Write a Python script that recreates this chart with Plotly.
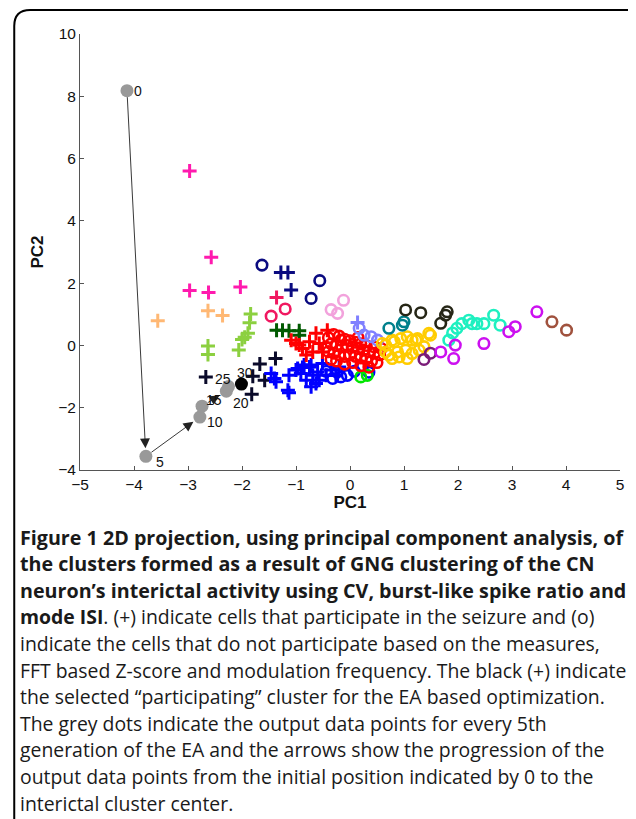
import plotly.graph_objects as go

# ---------------- data ----------------
magenta_plus_x = [-2.97, -2.57, -2.97, -2.62, -2.03]
magenta_plus_y = [5.60, 2.83, 1.76, 1.70, 1.88]

crimson_plus_x = [-1.36]
crimson_plus_y = [1.54]
crimson_circ_x = [-1.46, -1.20]
crimson_circ_y = [0.94, 1.17]

peach_plus_x = [-3.56, -2.63, -2.36]
peach_plus_y = [0.79, 1.11, 0.96]

lime_plus_x = [-2.63, -2.63, -1.84, -1.86, -1.89, -1.95, -2.00, -2.06]
lime_plus_y = [-0.02, -0.29, 1.01, 0.73, 0.39, 0.26, 0.19, -0.15]

navy_plus_x = [-1.28, -1.15, -1.09]
navy_plus_y = [2.34, 2.34, 1.78]
navy_circ_x = [-1.63, -0.56, -0.72]
navy_circ_y = [2.58, 2.08, 1.51]

black_plus_x = [-2.67, -1.67, -1.38, -1.80, -1.58, -1.82]
black_plus_y = [-1.01, -0.60, -0.42, -0.99, -1.12, -1.57]

dgreen_plus_x = [-1.36, -1.25, -1.13, -0.94, -0.94]
dgreen_plus_y = [0.49, 0.49, 0.47, 0.47, 0.33]

blue_plus_x = [-1.46, -1.37, -1.40, -1.13, -1.15, -1.13, -0.97, -1.00, -0.91, -0.88, -0.81,
               -0.85, -0.75, -0.72, -0.69, -0.72, -0.60, -0.57, -0.63, -0.51, -0.44, -0.35,
               -0.26, -0.20]
blue_plus_y = [-0.90, -1.17, -1.06, -0.96, -1.44, -1.52, -0.74, -0.79, -0.90, -0.71, -1.12,
               -0.63, -0.69, -0.63, -0.96, -1.33, -0.85, -1.12, -1.22, -0.58, -0.96, -0.79,
               -0.96, -0.69]
blue_circ_x = [-0.32, -0.17, -0.05, 0.23, 0.08, -0.44, 0.35, -0.24]
blue_circ_y = [-1.06, -1.01, -0.96, -0.69, -0.83, -0.83, -0.86, -0.86]

red_plus_x = [-1.09, -1.00, -0.88, -0.63, -0.42, -0.75, -0.57, -0.69, -0.51, -0.81, -0.94]
red_plus_y = [0.17, 0.06, -0.10, 0.39, 0.49, 0.12, 0.06, -0.21, -0.21, -0.31, 0.01]
red_circ_x = [-0.40, -0.30, -0.20, -0.10, 0.00, 0.10, 0.20, -0.35, -0.25, -0.15, -0.05, 0.05,
              0.15, 0.25, 0.35, 0.45, 0.55, -0.40, -0.30, -0.20, -0.10, 0.00, 0.10, 0.20,
              0.30, 0.40, 0.50, -0.25, -0.10, 0.05, 0.20, 0.35, -0.45, 0.58, 0.45, -0.35,
              0.15, 0.30, -0.17]
red_circ_y = [0.25, 0.35, 0.30, 0.20, 0.15, 0.10, 0.05, 0.05, 0.00, -0.05, 0.00, -0.05,
              -0.10, -0.15, -0.20, -0.25, -0.30, -0.20, -0.25, -0.30, -0.35, -0.30, -0.35, -0.40,
              -0.45, -0.50, -0.55, -0.50, -0.60, -0.55, -0.65, -0.70, -0.05, -0.10, -0.05, -0.45,
              0.25, 0.00, 0.17]

peri_plus_x = [0.14]
peri_plus_y = [0.74]
peri_circ_x = [0.17, 0.26, 0.39, 0.51]
peri_circ_y = [0.55, 0.33, 0.28, 0.17]

pink_circ_x = [-0.35, -0.12, -0.23]
pink_circ_y = [1.15, 1.45, 1.03]

green_circ_x = [0.20, 0.32]
green_circ_y = [-1.01, -0.96]

teal_circ_x = [0.72, 0.97, 1.00]
teal_circ_y = [0.55, 0.65, 0.76]

olive_circ_x = [1.03, 1.31, 1.80, 1.77, 1.68]
olive_circ_y = [1.14, 1.05, 1.08, 0.97, 0.71]

gold_circ_x = [0.66, 0.82, 0.94, 1.06, 1.15, 1.25, 1.37, 1.49, 0.72, 0.88, 1.03, 1.15, 1.28,
               0.78, 1.06, 0.60, 0.66, 0.78, 0.91, 1.22, 1.46]
gold_circ_y = [0.01, 0.12, 0.22, 0.28, 0.17, 0.22, -0.04, 0.33, -0.31, -0.21, -0.15, -0.26,
               -0.15, -0.42, -0.42, 0.06, -0.21, 0.17, -0.37, 0.17, 0.39]

dpurple_circ_x = [1.37, 1.49]
dpurple_circ_y = [-0.45, -0.25]

violet_circ_x = [1.68, 1.95, 1.92, 2.48, 2.94, 3.06, 3.46]
violet_circ_y = [-0.21, 0.01, -0.42, 0.06, 0.44, 0.60, 1.08]

aqua_circ_x = [1.83, 1.98, 2.07, 2.20, 2.26, 2.35, 2.48, 2.66, 2.78, 1.90]
aqua_circ_y = [0.17, 0.55, 0.70, 0.81, 0.70, 0.70, 0.70, 0.97, 0.65, 0.40]

brown_circ_x = [3.74, 4.01]
brown_circ_y = [0.76, 0.49]

# EA trajectory (grey dots, every 5th generation)
gen_labels = ["0", "5", "10", "15", "20", "25", "30"]
gen_x = [-4.13, -3.78, -2.78, -2.74, -2.29, -2.25, -2.01]
gen_y = [8.18, -3.56, -2.30, -1.95, -1.47, -1.32, -1.24]

x_ticks = [-5, -4, -3, -2, -1, 0, 1, 2, 3, 4, 5]
y_ticks = [-4, -2, 0, 2, 4, 6, 8, 10]

caption_lines = [
    "<b>Figure 1 2D projection, using principal component analysis, of</b>",
    "<b>the clusters formed as a result of GNG clustering of the CN</b>",
    "<b>neuron\u2019s interictal activity using CV, burst-like spike ratio and</b>",
    "<b>mode ISI</b>. (+) indicate cells that participate in the seizure and (o)",
    "indicate the cells that do not participate based on the measures,",
    "FFT based Z-score and modulation frequency. The black (+) indicate",
    "the selected \u201cparticipating\u201d cluster for the EA based optimization.",
    "The grey dots indicate the output data points for every 5th",
    "generation of the EA and the arrows show the progression of the",
    "output data points from the initial position indicated by 0 to the",
    "interictal cluster center.",
]

# ---------------- figure ----------------
OFF = 8                      # page body margin of the html page
W, H = 636 - OFF, 819 - OFF
ML, MT = 80 - OFF, 34 - OFF
MR = W - (622 - OFF)
MB = H - (470 - OFF)
PW, PH = W - ML - MR, H - MT - MB


def px2paper(px, py):
    """reference-image pixel -> paper coordinates"""
    return (px - OFF - ML) / PW, (H - MB - (py - OFF)) / PH


fig = go.Figure()


def plus(x, y, c):
    fig.add_trace(go.Scatter(x=x, y=y, mode="markers", hoverinfo="skip",
                             marker=dict(symbol="cross-thin", size=10, color=c,
                                         line=dict(width=3, color=c))))


def circ(x, y, c):
    fig.add_trace(go.Scatter(x=x, y=y, mode="markers", hoverinfo="skip",
                             marker=dict(symbol="circle-open", size=10.5, color=c,
                                         line=dict(width=2.6, color=c))))


plus(magenta_plus_x, magenta_plus_y, "#ff1aae")
plus(peach_plus_x, peach_plus_y, "#ffb874")
plus(lime_plus_x, lime_plus_y, "#8cd040")
plus(crimson_plus_x, crimson_plus_y, "#f01860")
circ(crimson_circ_x, crimson_circ_y, "#f01860")
plus(navy_plus_x, navy_plus_y, "#0a0a80")
circ(navy_circ_x, navy_circ_y, "#0a0a80")
plus(dgreen_plus_x, dgreen_plus_y, "#005a00")
plus(black_plus_x, black_plus_y, "#0a0a2a")
plus(blue_plus_x, blue_plus_y, "#0000ff")
circ(blue_circ_x, blue_circ_y, "#0000ff")
circ(pink_circ_x, pink_circ_y, "#f2a2dc")
plus(red_plus_x, red_plus_y, "#ff0000")
circ(green_circ_x, green_circ_y, "#00e600")
circ(red_circ_x, red_circ_y, "#ff0000")
plus(peri_plus_x, peri_plus_y, "#8080ff")
circ(peri_circ_x, peri_circ_y, "#8080ff")
circ(gold_circ_x, gold_circ_y, "#ffcc00")
circ(teal_circ_x, teal_circ_y, "#00808c")
circ(olive_circ_x, olive_circ_y, "#262616")
circ(dpurple_circ_x, dpurple_circ_y, "#7a1c78")
circ(aqua_circ_x, aqua_circ_y, "#1ef0c0")
circ(violet_circ_x, violet_circ_y, "#cc10f0")
circ(brown_circ_x, brown_circ_y, "#a0523e")

# grey generation dots (last one black = final centre)
gen_colors = ["#999999"] * (len(gen_x) - 1) + ["#000000"]
fig.add_trace(go.Scatter(x=gen_x, y=gen_y, mode="markers", hoverinfo="skip",
                         marker=dict(symbol="circle", size=13, color=gen_colors,
                                     line=dict(width=0))))

annotations = []
# arrows between consecutive generations
for i in range(len(gen_x) - 1):
    annotations.append(dict(x=gen_x[i + 1], y=gen_y[i + 1], ax=gen_x[i], ay=gen_y[i],
                            xref="x", yref="y", axref="x", ayref="y", text="",
                            showarrow=True, arrowhead=2, arrowsize=2.2, arrowwidth=0.9,
                            arrowcolor="#222222", standoff=8, startstandoff=5))

label_shift = [(11, 0), (14, -6), (15, -5), (12, 6), (15, -12), (-6, 8), (4, 11)]
for lab, gx, gy, (dx, dy) in zip(gen_labels, gen_x, gen_y, label_shift):
    annotations.append(dict(x=gx, y=gy, xref="x", yref="y", text=lab, showarrow=False,
                            xshift=dx, yshift=dy,
                            font=dict(family="Liberation Sans", size=14, color="#111")))

# caption
cap_y0, cap_dy = 537, 26.6
for i, line in enumerate(caption_lines):
    px, py = px2paper(18, cap_y0 + i * cap_dy)
    fs = 19.7 if i < 3 else 19.4
    annotations.append(dict(x=px, y=py, xref="paper", yref="paper", text=line,
                            showarrow=False, xanchor="left", yanchor="middle",
                            font=dict(family="Open Sans", size=fs, color="#1a1a1a")))

# frame with rounded top-left corner
p = [px2paper(14, 840), px2paper(14, 26), px2paper(14, 10), px2paper(30, 10), px2paper(660, 10)]
path = (f"M {p[0][0]},{p[0][1]} L {p[1][0]},{p[1][1]} Q {p[2][0]},{p[2][1]} "
        f"{p[3][0]},{p[3][1]} L {p[4][0]},{p[4][1]}")

fig.update_layout(
    width=W, height=H,
    margin=dict(l=ML, r=MR, t=MT, b=MB),
    paper_bgcolor="white", plot_bgcolor="white",
    showlegend=False,
    annotations=annotations,
    shapes=[dict(type="path", path=path, xref="paper", yref="paper",
                 line=dict(color="black", width=2))],
    xaxis=dict(range=[-5, 5], tickvals=x_ticks, showgrid=False, zeroline=False,
               showline=True, linecolor="#555", linewidth=1, ticks="inside", ticklen=4,
               tickcolor="#555", tickfont=dict(family="Liberation Sans", size=15.5, color="#111"),
               title=dict(text="<b>PC1</b>", standoff=3,
                          font=dict(family="Liberation Sans", size=17, color="#111"))),
    yaxis=dict(range=[-4, 10], tickvals=y_ticks, showgrid=False, zeroline=False,
               showline=True, linecolor="#555", linewidth=1, ticks="inside", ticklen=4,
               tickcolor="#555", tickfont=dict(family="Liberation Sans", size=15.5, color="#111"),
               title=dict(text="<b>PC2</b>", standoff=10,
                          font=dict(family="Liberation Sans", size=17, color="#111"))),
)

fig.write_html("out.html")
